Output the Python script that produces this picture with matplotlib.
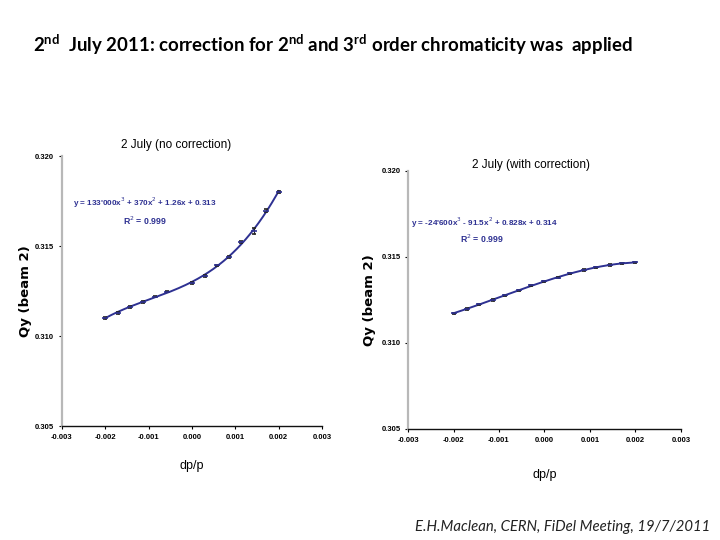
import matplotlib

matplotlib.use("Agg")
import matplotlib.pyplot as plt
import numpy as np

# --- data -------------------------------------------------------------------
dpp_nocorr = [-0.00200, -0.00171, -0.00143, -0.00114, -0.00086, -0.00057,
              0.00000, 0.00029, 0.00057, 0.00086, 0.00114, 0.00143, 0.00171, 0.00200]
qy_nocorr = [0.31102, 0.31130, 0.31161, 0.31189, 0.31219, 0.31246,
             0.31293, 0.31335, 0.31393, 0.31439, 0.31520, 0.31585, 0.31696, 0.31802]
err_nocorr = [0.00005, 0.00006, 0.00006, 0.00006, 0.00004, 0.00004,
              0.00006, 0.00005, 0.00004, 0.00004, 0.00006, 0.00016, 0.00008, 0.00006]

dpp_corr = [-0.00200, -0.00171, -0.00143, -0.00114, -0.00086, -0.00057, -0.00029,
            0.00000, 0.00029, 0.00057, 0.00086, 0.00114, 0.00143, 0.00171, 0.00200]
qy_corr = [0.31173, 0.31198, 0.31225, 0.31250, 0.31277, 0.31306, 0.31335,
           0.31358, 0.31380, 0.31405, 0.31424, 0.31439, 0.31453, 0.31463, 0.31468]
err_corr = [0.00004] * len(dpp_corr)

x_ticks = [-0.003, -0.002, -0.001, 0.000, 0.001, 0.002, 0.003]
y_ticks = [0.305, 0.310, 0.315, 0.320]

eq_nocorr = r"y = 133'000x$^3$ + 370x$^2$ + 1.26x + 0.313"
eq_corr = r"y = -24'600x$^3$ - 91.5x$^2$ + 0.828x + 0.314"
r2_text = r"R$^2$ = 0.999"

LINE = "#2e3192"
NARROW = ["Liberation Sans Narrow", "Liberation Sans", "DejaVu Sans"]

fig = plt.figure(figsize=(7.2, 5.4), dpi=100)

fig.text(0.046, 0.918,
         r"2$^{\mathregular{nd}}$  July 2011: correction for 2$^{\mathregular{nd}}$ and "
         r"3$^{\mathregular{rd}}$ order chromaticity was  applied",
         fontsize=13.4, fontweight="bold", family=["Lato", "DejaVu Sans"],
         ha="left", va="center")
fig.text(0.987, 0.024, "E.H.Maclean, CERN, FiDel Meeting, 19/7/2011",
         fontsize=10.7, style="italic", family=["Lato", "DejaVu Sans"],
         ha="right", va="center", color="#222")


def panel(rect, x, y, err, title, eq, eq_pos, r2_pos, title_pos, xpad, ypad):
    ax = fig.add_axes(rect)
    xs = np.linspace(min(x), max(x), 200)
    fit = np.polyfit(x, y, 3)
    ax.plot(xs, np.polyval(fit, xs), color=LINE, lw=1.4, zorder=2)
    ax.errorbar(x, y, yerr=err, fmt="_", color=LINE, ms=4, mew=1.2,
                ecolor="#222", elinewidth=0.8, capsize=1.5, capthick=0.8, zorder=3)
    ax.set_xlim(-0.003, 0.003)
    ax.set_ylim(0.305, 0.320)
    ax.set_xticks(x_ticks)
    ax.set_yticks(y_ticks)
    ax.set_xticklabels([f"{v:.3f}" for v in x_ticks])
    ax.set_yticklabels([f"{v:.3f}" for v in y_ticks])
    for lab in ax.get_xticklabels() + ax.get_yticklabels():
        lab.set_fontsize(5.5)
        lab.set_fontweight("bold")
        lab.set_family(NARROW)
    ax.tick_params(length=2.5, width=0.8, pad=3)
    ax.spines["top"].set_visible(False)
    ax.spines["right"].set_visible(False)
    ax.spines["left"].set_color("#b8b8b8")
    ax.spines["left"].set_linewidth(1.6)
    ax.spines["bottom"].set_color("#111")
    ax.spines["bottom"].set_linewidth(1.0)
    ax.set_xlabel("dp/p", fontsize=9, family=NARROW, labelpad=xpad)
    ax.set_ylabel("Qy (beam 2)", fontsize=9.5, fontweight="bold",
                  family=["DejaVu Sans"], labelpad=ypad)
    ax.text(*title_pos, title, transform=ax.transAxes, ha="center",
            va="center", fontsize=8.5, family=NARROW)
    ax.text(*eq_pos, eq, transform=ax.transAxes, ha="center", va="center",
            fontsize=5.9, fontweight="bold", family=NARROW, color=LINE)
    ax.text(*r2_pos, r2_text, transform=ax.transAxes, ha="center", va="center",
            fontsize=6.3, fontweight="bold", family=NARROW, color=LINE)
    return ax


panel([0.0861, 0.2111, 0.3611, 0.5], dpp_nocorr, qy_nocorr, err_nocorr,
      "2 July (no correction)", eq_nocorr, (0.32, 0.826), (0.32, 0.76),
      (0.44, 1.04), 14, 2)
panel([0.5667, 0.2056, 0.379, 0.4778], dpp_corr, qy_corr, err_corr,
      "2 July (with correction)", eq_corr, (0.28, 0.80), (0.27, 0.738),
      (0.45, 1.023), 18, 4)

fig.savefig("out.png", dpi=100)
